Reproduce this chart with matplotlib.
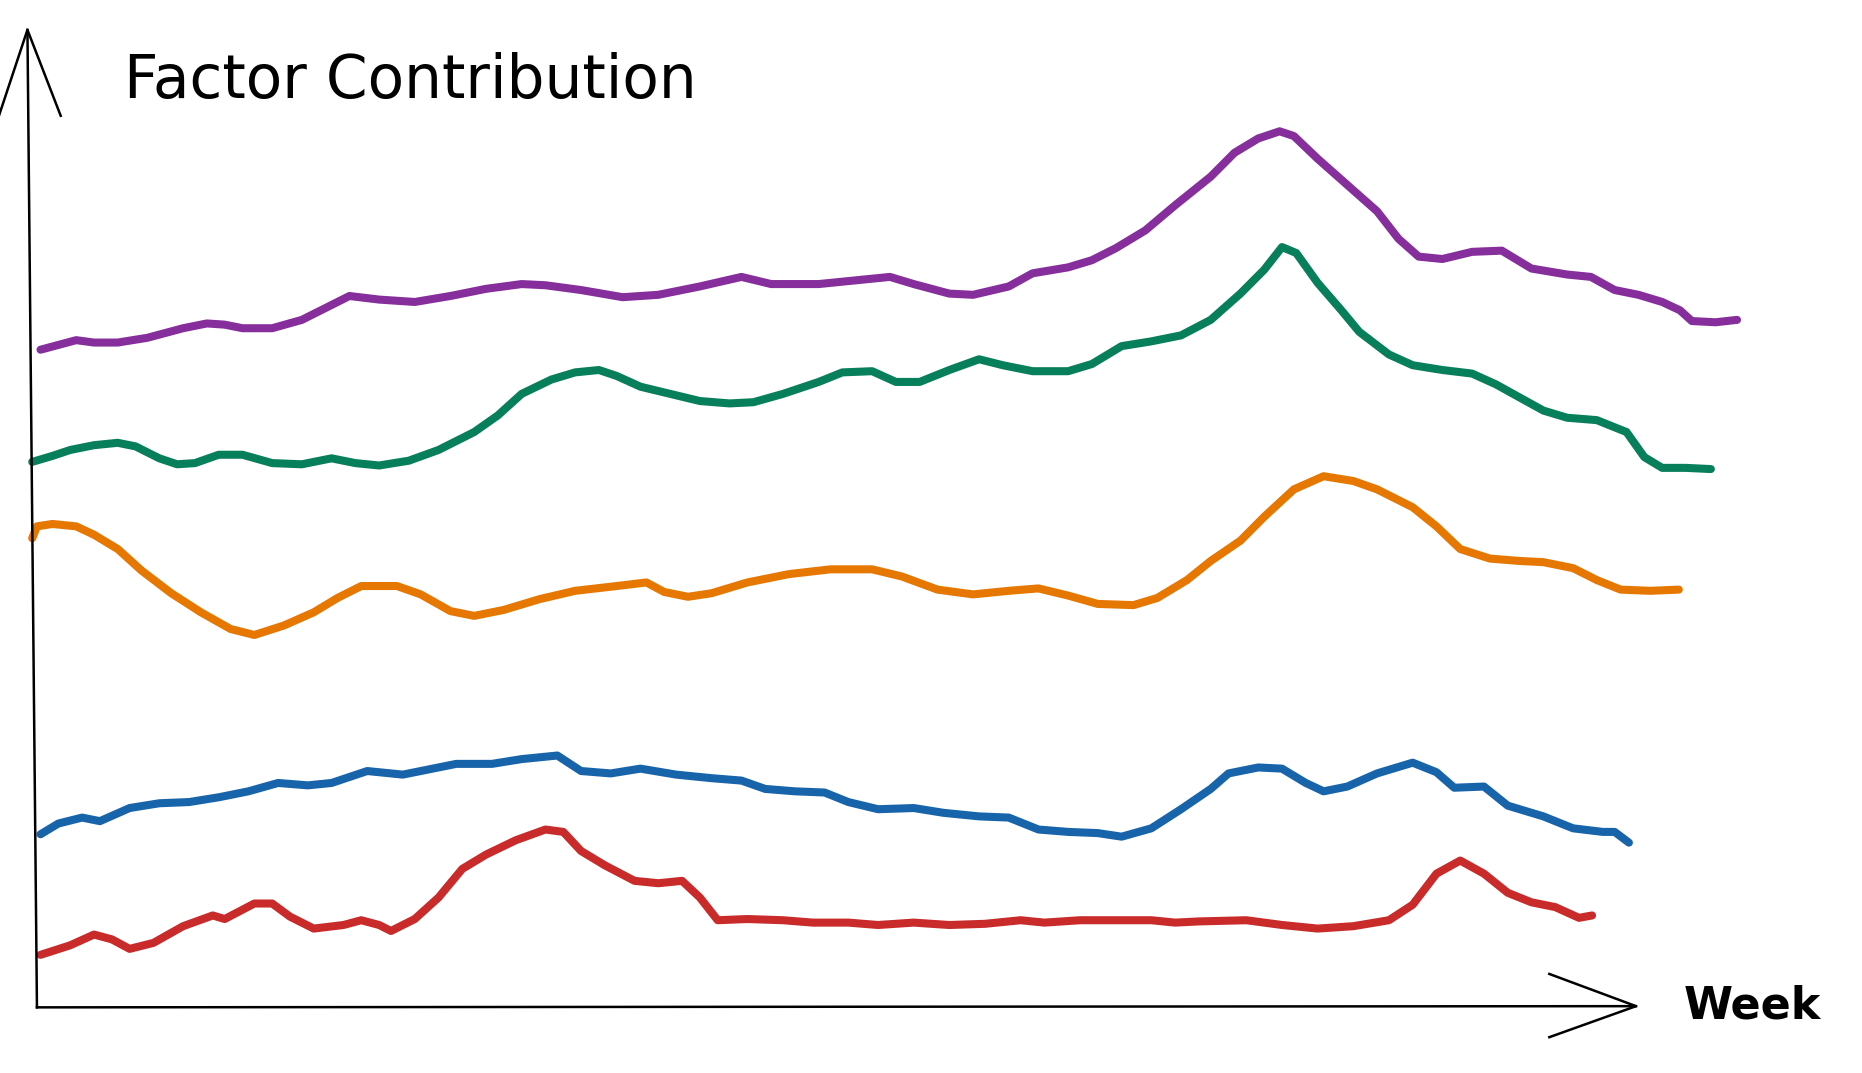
import matplotlib.pyplot as plt

# weeks / factor contribution, one pair of lists per factor
purple_weeks = [0.3, 3.3, 4.8, 6.8, 9.3, 12.3, 14.3, 15.8, 17.3, 19.8, 22.3, 24.3, 26.3, 28.8, 31.8, 34.8,
                37.8, 40.8, 42.8, 45.8, 49.3, 52.3, 55.8, 59.3, 61.8, 65.8, 68.8, 71.8, 73.8, 76.8, 78.8,
                81.8, 83.8, 86.8, 88.8, 90.8, 93.3, 95.8, 98.8, 100.8, 102.8, 104.6, 105.8, 107.8, 110.3,
                112.8, 114.6, 116.3, 118.3, 120.8, 123.3, 125.8, 128.8, 130.8, 132.8, 134.8, 136.8, 138.3,
                139.3, 141.3, 143.1]
purple_vals = [5.55, 5.63, 5.61, 5.61, 5.65, 5.73, 5.77, 5.76, 5.73, 5.73, 5.80, 5.90, 6.00, 5.97, 5.95, 6.00,
               6.06, 6.10, 6.09, 6.05, 5.99, 6.01, 6.08, 6.16, 6.10, 6.10, 6.13, 6.16, 6.10, 6.02, 6.01,
               6.08, 6.19, 6.24, 6.30, 6.40, 6.55, 6.76, 7.00, 7.20, 7.32, 7.38, 7.34, 7.15, 6.93,
               6.71, 6.48, 6.33, 6.31, 6.37, 6.38, 6.23, 6.18, 6.16, 6.05, 6.01, 5.95, 5.88,
               5.79, 5.78, 5.80]

green_weeks = [-0.4, 1.3, 2.8, 4.8, 6.8, 8.3, 10.3, 11.8, 13.3, 15.3, 17.3, 19.8, 22.3, 24.8, 26.8, 28.8,
               31.3, 33.8, 36.8, 38.8, 40.8, 43.3, 45.3, 47.3, 48.8, 50.8, 53.3, 55.8, 58.3, 60.3, 62.8,
               65.8, 67.8, 70.3, 72.3, 74.3, 76.8, 79.3, 81.3, 83.8, 86.8, 88.8, 91.3, 93.8, 96.3, 98.8,
               101.3, 103.3, 104.8, 106.0, 107.8, 109.8, 111.3, 113.8, 115.8, 118.3, 120.8, 122.8, 124.8,
               126.8, 128.8, 131.3, 133.8, 135.3, 136.8, 138.8, 140.9]
green_vals = [4.61, 4.66, 4.71, 4.75, 4.77, 4.74, 4.64, 4.59, 4.60, 4.67, 4.67, 4.60, 4.59, 4.64, 4.60, 4.58,
              4.62, 4.71, 4.86, 5.00, 5.18, 5.30, 5.36, 5.38, 5.33, 5.24, 5.18, 5.12, 5.10, 5.11, 5.18,
              5.28, 5.36, 5.37, 5.28, 5.28, 5.38, 5.47, 5.42, 5.37, 5.37, 5.43, 5.58, 5.62, 5.67, 5.80,
              6.02, 6.22, 6.41, 6.36, 6.11, 5.88, 5.70, 5.51, 5.42, 5.38, 5.35, 5.26, 5.15,
              5.04, 4.98, 4.96, 4.86, 4.65, 4.56, 4.56, 4.55]

orange_weeks = [-0.4, 0.0, 1.3, 3.3, 4.8, 6.8, 8.8, 11.3, 13.8, 16.3, 18.3, 20.8, 23.3, 25.3, 27.3, 30.3,
                32.3, 34.8, 36.8, 39.3, 42.3, 45.3, 48.8, 51.3, 52.8, 54.8, 56.8, 59.8, 63.3, 66.8, 70.3,
                72.8, 75.8, 78.8, 81.8, 84.3, 86.8, 89.3, 92.3, 94.3, 96.8, 98.8, 101.3, 103.3, 105.8,
                108.3, 110.8, 112.8, 115.8, 117.8, 119.8, 122.3, 124.8, 126.8, 129.3, 131.3, 133.3,
                135.8, 138.2]
orange_vals = [3.97, 4.07, 4.09, 4.07, 4.00, 3.88, 3.70, 3.51, 3.35, 3.21, 3.16, 3.24, 3.35, 3.47, 3.57, 3.57,
               3.50, 3.36, 3.32, 3.37, 3.46, 3.53, 3.57, 3.60, 3.52, 3.48, 3.51, 3.60, 3.67, 3.71, 3.71,
               3.65, 3.54, 3.50, 3.53, 3.55, 3.49, 3.42, 3.41, 3.47, 3.62, 3.78, 3.95, 4.15, 4.38,
               4.49, 4.45, 4.38, 4.23, 4.07, 3.88, 3.80, 3.78, 3.77, 3.72, 3.62, 3.54,
               3.53, 3.54]

blue_weeks = [0.3, 1.8, 3.8, 5.3, 7.8, 10.3, 12.8, 15.3, 17.8, 20.3, 22.8, 24.8, 27.8, 30.8, 32.8, 35.3,
              38.3, 40.8, 43.8, 45.8, 48.3, 50.8, 53.8, 56.8, 59.3, 61.3, 63.8, 66.3, 68.3, 70.8, 73.8,
              76.3, 79.3, 81.8, 84.3, 86.8, 89.3, 91.3, 93.8, 96.3, 98.8, 100.3, 102.8, 104.8, 106.8,
              108.3, 110.3, 112.8, 115.8, 117.8, 119.3, 121.8, 123.8, 126.8, 129.3, 131.8, 132.8, 134.0]
blue_vals = [1.49, 1.58, 1.63, 1.60, 1.71, 1.75, 1.76, 1.80, 1.85, 1.92, 1.90, 1.92, 2.02, 1.99, 2.03, 2.08,
             2.08, 2.12, 2.15, 2.02, 2.00, 2.04, 1.99, 1.96, 1.94, 1.87, 1.85, 1.84, 1.76, 1.70, 1.71,
             1.67, 1.64, 1.63, 1.53, 1.51, 1.50, 1.47, 1.54, 1.70, 1.87, 2.00, 2.05, 2.04, 1.92,
             1.85, 1.89, 2.00, 2.09, 2.01, 1.88, 1.89, 1.73, 1.64, 1.54, 1.51, 1.51, 1.42]

red_weeks = [0.3, 2.8, 4.8, 6.3, 7.8, 9.8, 12.3, 14.8, 15.8, 18.3, 19.8, 21.3, 23.3, 25.8, 27.3, 28.8,
             29.8, 31.8, 33.8, 35.8, 37.8, 40.3, 42.8, 44.3, 45.8, 47.8, 50.3, 52.3, 54.3, 55.8, 57.3,
             59.8, 62.8, 65.3, 68.3, 70.8, 73.8, 76.8, 79.8, 82.8, 84.8, 87.8, 90.8, 93.8, 95.8, 97.8,
             101.8, 104.8, 107.8, 110.8, 113.8, 115.8, 117.8, 119.8, 121.8, 123.8, 125.8, 127.8, 129.8, 130.9]
red_vals = [0.48, 0.56, 0.65, 0.61, 0.53, 0.58, 0.72, 0.81, 0.78, 0.91, 0.91, 0.80, 0.70, 0.73, 0.77, 0.73,
            0.68, 0.78, 0.96, 1.20, 1.32, 1.44, 1.53, 1.51, 1.35, 1.23, 1.10, 1.08, 1.10, 0.96, 0.77,
            0.78, 0.77, 0.75, 0.75, 0.73, 0.75, 0.73, 0.74, 0.77, 0.75, 0.77, 0.77, 0.77, 0.75, 0.76,
            0.77, 0.73, 0.70, 0.72, 0.77, 0.90, 1.16, 1.27, 1.16, 1.00, 0.92, 0.88, 0.79, 0.81]

series = [
    (purple_weeks, purple_vals, '#862e9c'),
    (green_weeks, green_vals, '#087f5b'),
    (orange_weeks, orange_vals, '#e67700'),
    (blue_weeks, blue_vals, '#1864ab'),
    (red_weeks, red_vals, '#c92a2a'),
]

fig = plt.figure(figsize=(18.62, 10.73), dpi=100)
ax = fig.add_axes([0, 0, 1, 1])

for wk, vals, col in series:
    ax.plot(wk, vals, color=col, linewidth=5.8, solid_capstyle='round', solid_joinstyle='round')

# hand-drawn style axes with open arrow heads
ax.plot([0, -0.8], [0.04, 8.23], color='black', linewidth=1.8)
ax.plot([-3.2, -0.8, 2.0], [7.51, 8.23, 7.51], color='black', linewidth=1.8)
ax.plot([0, 134.6], [0.04, 0.05], color='black', linewidth=1.8)
ax.plot([127.3, 134.6, 127.3], [0.32, 0.05, -0.21], color='black', linewidth=1.8)

ax.text(7.3, 7.80, 'Factor Contribution', fontsize=43, va='center', ha='left')
ax.text(138.6, 0.05, 'Week', fontsize=32, fontweight='bold', va='center', ha='left')

ax.set_xlim(-3.11, 153.62)
ax.set_ylim(-0.51, 8.48)
ax.axis('off')

fig.savefig('out.png', dpi=100, facecolor='white')
